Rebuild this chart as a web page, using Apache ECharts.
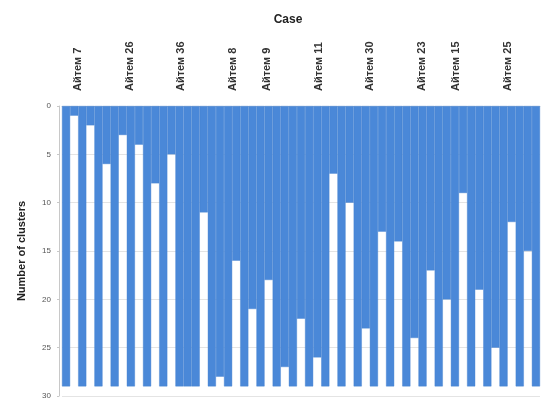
<!DOCTYPE html>
<html>
<head>
<meta charset="utf-8">
<script src="https://cdn.jsdelivr.net/npm/echarts@6/dist/echarts.min.js"></script>
<style>html,body{margin:0;padding:0;background:#fff}#c{width:542px;height:406px}</style>
</head>
<body>
<div id="c"></div>
<script>
// ---- data ----
const caseCount = 30;
const maxClusters = 29;
// level (number of clusters) at which each gap between adjacent cases opens
const gapLevels = [1, 2, 6, 3, 4, 8, 5, 29, 11, 28, 16, 21, 18, 27, 22, 26, 7, 10, 23, 13, 14, 24, 17, 20, 9, 19, 25, 12, 15];
// top case labels (blank = not shown)
const caseLabels = ['Айтем 7', '', '', 'Айтем 26', '', '', 'Айтем 36', '', '', 'Айтем 8', '', 'Айтем 9', '', '', 'Айтем 11', '', '', 'Айтем 30', '', '', 'Айтем 23', '', 'Айтем 15', '', '', 'Айтем 25', ''];
const yTicks = [0, 5, 10, 15, 20, 25, 30];

// ---- build slots: case, gap, case, gap, ... ----
const slotNames = [];
const slotValues = [];
for (let i = 0; i < caseCount; i++) {
  slotNames.push('c' + i);
  slotValues.push(maxClusters);
  if (i < gapLevels.length) {
    slotNames.push('g' + i);
    slotValues.push(gapLevels[i]);
  }
}

const chart = echarts.init(document.getElementById('c'), null, {renderer: 'canvas'});
chart.setOption({
  backgroundColor: '#ffffff',
  animation: false,
  title: {
    text: 'Case', left: 283, top: 9, textAlign: 'center',
    textStyle: {fontFamily: 'Liberation Sans', fontSize: 12, fontWeight: 'bold', color: '#222'}
  },
  grid: [
    {left: 62, right: 2, top: 106, bottom: 10},
    {left: 69.4, width: 464.4, top: 97, height: 4}
  ],
  xAxis: [
    {
      type: 'category', gridIndex: 0, data: slotNames, position: 'bottom',
      axisLine: {show: true, lineStyle: {color: '#d8d8d8', width: 1}},
      axisTick: {show: false}, axisLabel: {show: false}, splitLine: {show: false}
    },
    {
      type: 'category', gridIndex: 1, data: caseLabels, position: 'top',
      axisLine: {show: false}, axisTick: {show: false},
      axisLabel: {
        interval: 0, rotate: 90, margin: 6,
        fontFamily: 'Liberation Sans', fontSize: 11, fontWeight: 'bold', color: '#333'
      }
    }
  ],
  yAxis: [
    {
      type: 'value', gridIndex: 0, inverse: true, min: 0, max: 30, interval: 5,
      offset: 3,
      name: 'Number of clusters', nameLocation: 'middle', nameRotate: 90, nameGap: 32,
      nameTextStyle: {fontFamily: 'Liberation Sans', fontSize: 11, fontWeight: 'bold', color: '#222'},
      axisLine: {show: true, lineStyle: {color: '#c8c8c8'}},
      axisTick: {show: true, length: 2, lineStyle: {color: '#c8c8c8'}},
      axisLabel: {fontFamily: 'Liberation Sans', fontSize: 8, color: '#555', margin: 8,
        formatter: v => yTicks.indexOf(v) >= 0 ? String(v) : ''},
      splitLine: {show: true, lineStyle: {color: '#e4e4e4', width: 1}}
    },
    {type: 'value', gridIndex: 1, show: false}
  ],
  series: [{
    type: 'bar', xAxisIndex: 0, yAxisIndex: 0,
    data: slotValues,
    barWidth: '100%', barCategoryGap: 0,
    itemStyle: {color: '#4a88d8', borderColor: '#4582d0', borderWidth: 0.4},
    emphasis: {disabled: true}
  }]
});
</script>
</body>
</html>
